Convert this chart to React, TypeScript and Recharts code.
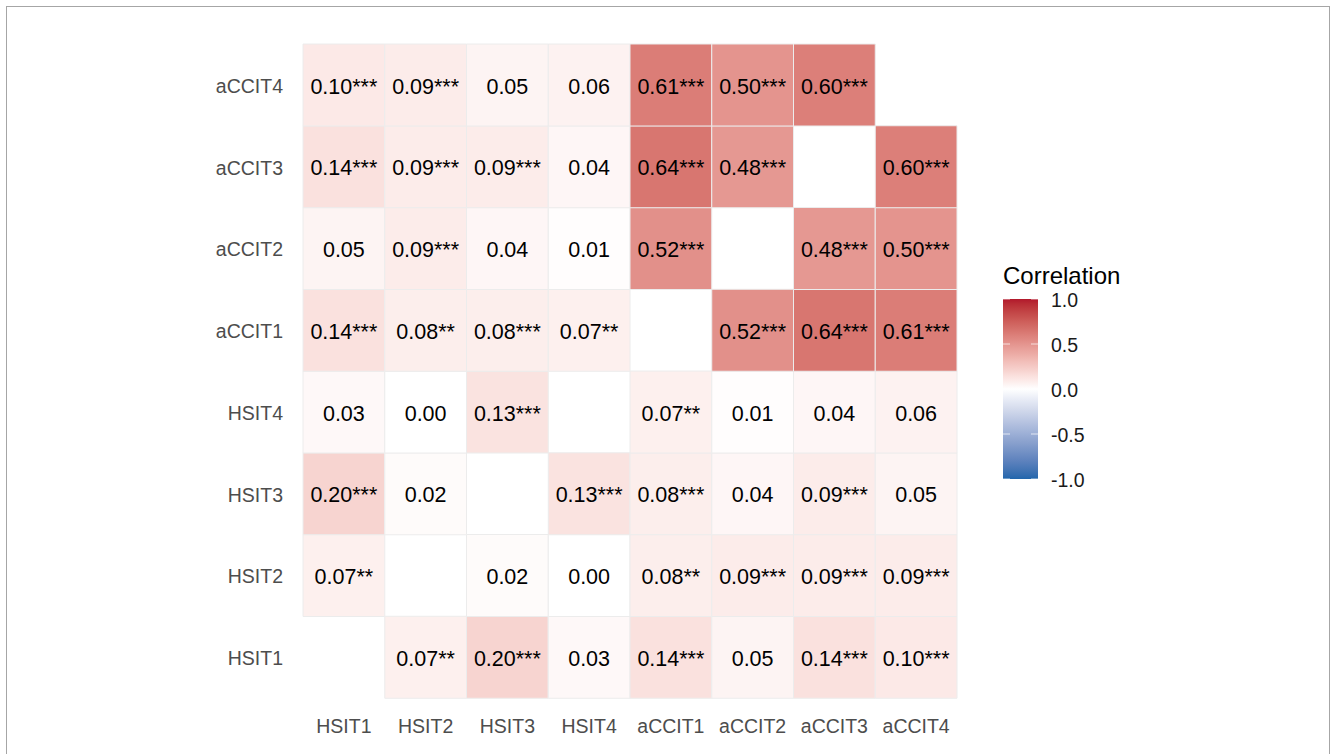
import React from "react";
import { BarChart, Bar, XAxis, YAxis, Cell, LabelList } from "recharts";

const variables = ["HSIT1", "HSIT2", "HSIT3", "HSIT4", "aCCIT1", "aCCIT2", "aCCIT3", "aCCIT4"];

// correlation values per row (columns in the order of `variables`), null = diagonal
const corrHSIT1 = [null, 0.07, 0.2, 0.03, 0.14, 0.05, 0.14, 0.1];
const corrHSIT2 = [0.07, null, 0.02, 0.0, 0.08, 0.09, 0.09, 0.09];
const corrHSIT3 = [0.2, 0.02, null, 0.13, 0.08, 0.04, 0.09, 0.05];
const corrHSIT4 = [0.03, 0.0, 0.13, null, 0.07, 0.01, 0.04, 0.06];
const corrACCIT1 = [0.14, 0.08, 0.08, 0.07, null, 0.52, 0.64, 0.61];
const corrACCIT2 = [0.05, 0.09, 0.04, 0.01, 0.52, null, 0.48, 0.5];
const corrACCIT3 = [0.14, 0.09, 0.09, 0.04, 0.64, 0.48, null, 0.6];
const corrACCIT4 = [0.1, 0.09, 0.05, 0.06, 0.61, 0.5, 0.6, null];

// significance stars per row
const starsHSIT1 = ["", "**", "***", "", "***", "", "***", "***"];
const starsHSIT2 = ["**", "", "", "", "**", "***", "***", "***"];
const starsHSIT3 = ["***", "", "", "***", "***", "", "***", ""];
const starsHSIT4 = ["", "", "***", "", "**", "", "", ""];
const starsACCIT1 = ["***", "**", "***", "**", "", "***", "***", "***"];
const starsACCIT2 = ["", "***", "", "", "***", "", "***", "***"];
const starsACCIT3 = ["***", "***", "***", "", "***", "***", "", "***"];
const starsACCIT4 = ["***", "***", "", "", "***", "***", "***", ""];

const corrRows = [corrHSIT1, corrHSIT2, corrHSIT3, corrHSIT4, corrACCIT1, corrACCIT2, corrACCIT3, corrACCIT4];
const starRows = [starsHSIT1, starsHSIT2, starsHSIT3, starsHSIT4, starsACCIT1, starsACCIT2, starsACCIT3, starsACCIT4];

const legendTicks = [1.0, 0.5, 0.0, -0.5, -1.0];

// ---- colour scale (Lab interpolation like ggplot gradient2) ----
const HIGH = "#B2182B";
const LOW = "#2166AC";
const MID = "#FFFFFF";

function toLin(c: number) {
  c /= 255;
  return c <= 0.04045 ? c / 12.92 : Math.pow((c + 0.055) / 1.055, 2.4);
}
function fromLin(c: number) {
  const v = c <= 0.0031308 ? 12.92 * c : 1.055 * Math.pow(c, 1 / 2.4) - 0.055;
  return Math.round(Math.max(0, Math.min(1, v)) * 255);
}
const Xn = 0.95047, Yn = 1.0, Zn = 1.08883;
function f(t: number) {
  return t > 0.008856 ? Math.cbrt(t) : 7.787 * t + 16 / 116;
}
function finv(t: number) {
  return t * t * t > 0.008856 ? t * t * t : (t - 16 / 116) / 7.787;
}
function hexToLab(hex: string) {
  const r = toLin(parseInt(hex.slice(1, 3), 16));
  const g = toLin(parseInt(hex.slice(3, 5), 16));
  const b = toLin(parseInt(hex.slice(5, 7), 16));
  const X = 0.4124 * r + 0.3576 * g + 0.1805 * b;
  const Y = 0.2126 * r + 0.7152 * g + 0.0722 * b;
  const Z = 0.0193 * r + 0.1192 * g + 0.9505 * b;
  const fx = f(X / Xn), fy = f(Y / Yn), fz = f(Z / Zn);
  return [116 * fy - 16, 500 * (fx - fy), 200 * (fy - fz)];
}
function labToHex(L: number, a: number, bb: number) {
  const fy = (L + 16) / 116;
  const fx = fy + a / 500;
  const fz = fy - bb / 200;
  const X = Xn * finv(fx), Y = Yn * finv(fy), Z = Zn * finv(fz);
  const r = 3.2406 * X - 1.5372 * Y - 0.4986 * Z;
  const g = -0.9689 * X + 1.8758 * Y + 0.0415 * Z;
  const b = 0.0557 * X - 0.204 * Y + 1.057 * Z;
  const h = (n: number) => fromLin(n).toString(16).padStart(2, "0");
  return "#" + h(r) + h(g) + h(b);
}
const labHigh = hexToLab(HIGH), labLow = hexToLab(LOW), labMid = hexToLab(MID);
function colorFor(v: number) {
  const t = Math.min(1, Math.abs(v));
  const end = v >= 0 ? labHigh : labLow;
  return labToHex(
    labMid[0] + (end[0] - labMid[0]) * t,
    labMid[1] + (end[1] - labMid[1]) * t,
    labMid[2] + (end[2] - labMid[2]) * t
  );
}

// table for recharts: each row is a category, each column a unit-width stacked segment
const tableData = variables.map((name) => {
  const row: any = { name };
  variables.forEach((_, c) => {
    row["c" + c] = 1;
  });
  return row;
});

const FONT = "'Liberation Sans', Arial, Helvetica, sans-serif";

function makeLabel(col: number) {
  return (props: any) => {
    const { x, y, width, height, index } = props;
    const v = corrRows[index][col];
    if (v === null || v === undefined) return null;
    const txt = (v as number).toFixed(2) + starRows[index][col];
    return (
      <text
        x={x + width / 2}
        y={y + height / 2}
        dy={1.5}
        textAnchor="middle"
        dominantBaseline="central"
        fontSize={21.5}
        fontFamily={FONT}
        fill="#000"
      >
        {txt}
      </text>
    );
  };
}

function ColorBar() {
  const stops = [];
  for (let i = 0; i <= 40; i++) {
    const v = 1 - (2 * i) / 40;
    stops.push(<stop key={i} offset={`${(i / 40) * 100}%`} stopColor={colorFor(v)} />);
  }
  const barX = 1003, barTop = 299, barH = 180, barW = 35;
  const yOf = (v: number) => barTop + ((1 - v) / 2) * barH;
  return (
    <svg
      width={1330}
      height={754}
      style={{ position: "absolute", left: 0, top: 0, pointerEvents: "none" }}
    >
      <defs>
        <linearGradient id="corrGrad" x1="0" y1="0" x2="0" y2="1">
          {stops}
        </linearGradient>
      </defs>
      <text x={1003} y={284} fontSize={24} fontFamily={FONT} fill="#000">
        Correlation
      </text>
      <rect x={barX} y={barTop} width={barW} height={barH} fill="url(#corrGrad)" />
      {legendTicks.map((t) => (
        <g key={t}>
          <line x1={barX} x2={barX + 7} y1={yOf(t)} y2={yOf(t)} stroke="#fff" strokeOpacity={0.7} />
          <line x1={barX + barW - 7} x2={barX + barW} y1={yOf(t)} y2={yOf(t)} stroke="#fff" strokeOpacity={0.7} />
          <text
            x={1051}
            y={yOf(t)}
            dy={1}
            dominantBaseline="central"
            fontSize={19.5}
            fontFamily={FONT}
            fill="#1a1a1a"
          >
            {t.toFixed(1)}
          </text>
        </g>
      ))}
    </svg>
  );
}

export default function App() {
  return (
    <div
      style={{
        position: "absolute",
        left: 0,
        top: 0,
        width: 1330,
        height: 754,
        overflow: "hidden",
        background: "#fff",
      }}
    >
      <div
        style={{
          position: "absolute",
          left: 6,
          top: 6,
          width: 1324,
          height: 800,
          border: "1px solid #a6a6a6",
          boxSizing: "border-box",
        }}
      />
      <div style={{ position: "absolute", left: 0, top: 0 }}>
        <BarChart
          width={1330}
          height={754}
          data={tableData}
          layout="vertical"
          margin={{ top: 44, right: 373, bottom: 16, left: 0 }}
          barCategoryGap={0}
          barGap={0}
        >
          <XAxis
            type="number"
            domain={[0, 8]}
            ticks={[0.5, 1.5, 2.5, 3.5, 4.5, 5.5, 6.5, 7.5]}
            tickFormatter={(v: number) => variables[Math.floor(v)]}
            axisLine={false}
            tickLine={false}
            tickSize={0}
            tickMargin={21}
            height={40}
            interval={0}
            tick={{ fontSize: 19.5, fill: "#4d4d4d", fontFamily: FONT }}
          />
          <YAxis
            type="category"
            dataKey="name"
            reversed
            axisLine={false}
            tickLine={false}
            tickSize={0}
            tickMargin={20}
            width={303}
            interval={0}
            tick={{ fontSize: 19.5, fill: "#4d4d4d", fontFamily: FONT, dy: 1 }}
          />
          {variables.map((_, col) => (
            <Bar key={col} dataKey={"c" + col} stackId="grid" isAnimationActive={false}>
              {tableData.map((__, r) => {
                const v = corrRows[r][col];
                const diag = v === null;
                return (
                  <Cell
                    key={r}
                    fill={diag ? "none" : colorFor(v as number)}
                    stroke={diag ? "none" : "#ececec"}
                    strokeWidth={1}
                  />
                );
              })}
              <LabelList content={makeLabel(col)} />
            </Bar>
          ))}
        </BarChart>
      </div>
      <ColorBar />
    </div>
  );
}
